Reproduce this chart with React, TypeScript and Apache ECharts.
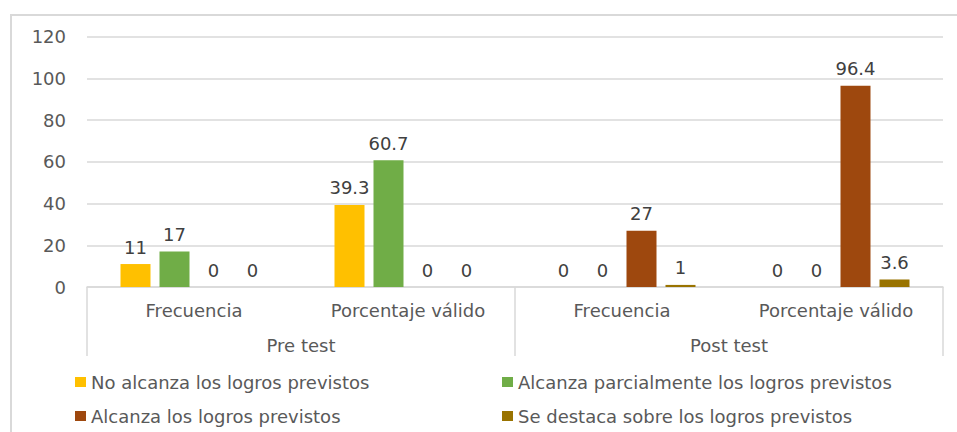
import React, { useEffect, useRef } from "react";
import * as echarts from "echarts";

const categories = ["Frecuencia", "Porcentaje válido", "Frecuencia", "Porcentaje válido"];
const groups = ["Pre test", "Post test"];
const seriesNames = [
  "No alcanza los logros previstos",
  "Alcanza parcialmente los logros previstos",
  "Alcanza los logros previstos",
  "Se destaca sobre los logros previstos",
];
const noAlcanza = [11, 39.3, 0, 0];
const parcial = [17, 60.7, 0, 0];
const alcanza = [0, 0, 27, 96.4];
const destaca = [0, 0, 1, 3.6];
const colors = ["#FFC000", "#70AD47", "#9E480E", "#997300"];

const FONT = "DejaVu Sans";
const FS = 18;

export default function App() {
  const ref = useRef<HTMLDivElement>(null);
  useEffect(() => {
    if (!ref.current) return;
    const chart = echarts.init(ref.current, null, { renderer: "svg" });
    const values = [noAlcanza, parcial, alcanza, destaca];
    const legendPos = [
      { left: 75, top: 373 },
      { left: 502, top: 373 },
      { left: 75, top: 407 },
      { left: 502, top: 407 },
    ];
    chart.setOption({
      animation: false,
      backgroundColor: "#ffffff",
      textStyle: { fontFamily: FONT },
      graphic: [
        {
          type: "rect",
          shape: { x: 11, y: 15, width: 970, height: 440 },
          style: { fill: "none", stroke: "#D9D9D9", lineWidth: 2 },
          silent: true,
        },
      ],
      legend: seriesNames.map((n, i) => ({
        data: [n],
        left: legendPos[i].left,
        top: legendPos[i].top,
        padding: 0,
        icon: "rect",
        itemWidth: 11,
        itemHeight: 10,
        textStyle: { fontSize: FS, color: "#595959", fontFamily: FONT },
        selectedMode: false,
      })),
      grid: { left: 87, right: 14, top: 36.5, bottom: 145, containLabel: false },
      xAxis: [
        {
          type: "category",
          data: categories,
          position: "bottom",
          axisLine: { show: true, lineStyle: { color: "#D9D9D9", width: 1.5 } },
          axisTick: { show: false },
          axisLabel: { margin: 14, fontSize: FS, color: "#595959", fontFamily: FONT, interval: 0 },
        },
        {
          type: "category",
          data: groups,
          position: "bottom",
          axisLine: { show: false },
          axisTick: { show: true, length: 69, lineStyle: { color: "#D9D9D9", width: 1.5 } },
          axisLabel: { margin: 49, fontSize: FS, color: "#595959", fontFamily: FONT, interval: 0 },
        },
      ],
      yAxis: {
        type: "value",
        min: 0,
        max: 120,
        interval: 20,
        axisLine: { show: false },
        axisTick: { show: false },
        axisLabel: { margin: 21, fontSize: FS, color: "#595959", fontFamily: FONT },
        splitLine: { lineStyle: { color: "#D9D9D9", width: 1.5 } },
      },
      series: seriesNames.map((n, i) => ({
        name: n,
        type: "bar",
        xAxisIndex: 0,
        data: values[i],
        barWidth: 30,
        barGap: "30%",
        itemStyle: { color: colors[i] },
        label: {
          show: true,
          position: "top",
          distance: 8,
          fontSize: FS,
          color: "#404040",
          fontFamily: FONT,
        },
      })),
    });
    return () => chart.dispose();
  }, []);
  return (
    <div
      ref={ref}
      style={{ position: "absolute", left: 0, top: 0, width: 957, height: 432, overflow: "hidden" }}
    />
  );
}
